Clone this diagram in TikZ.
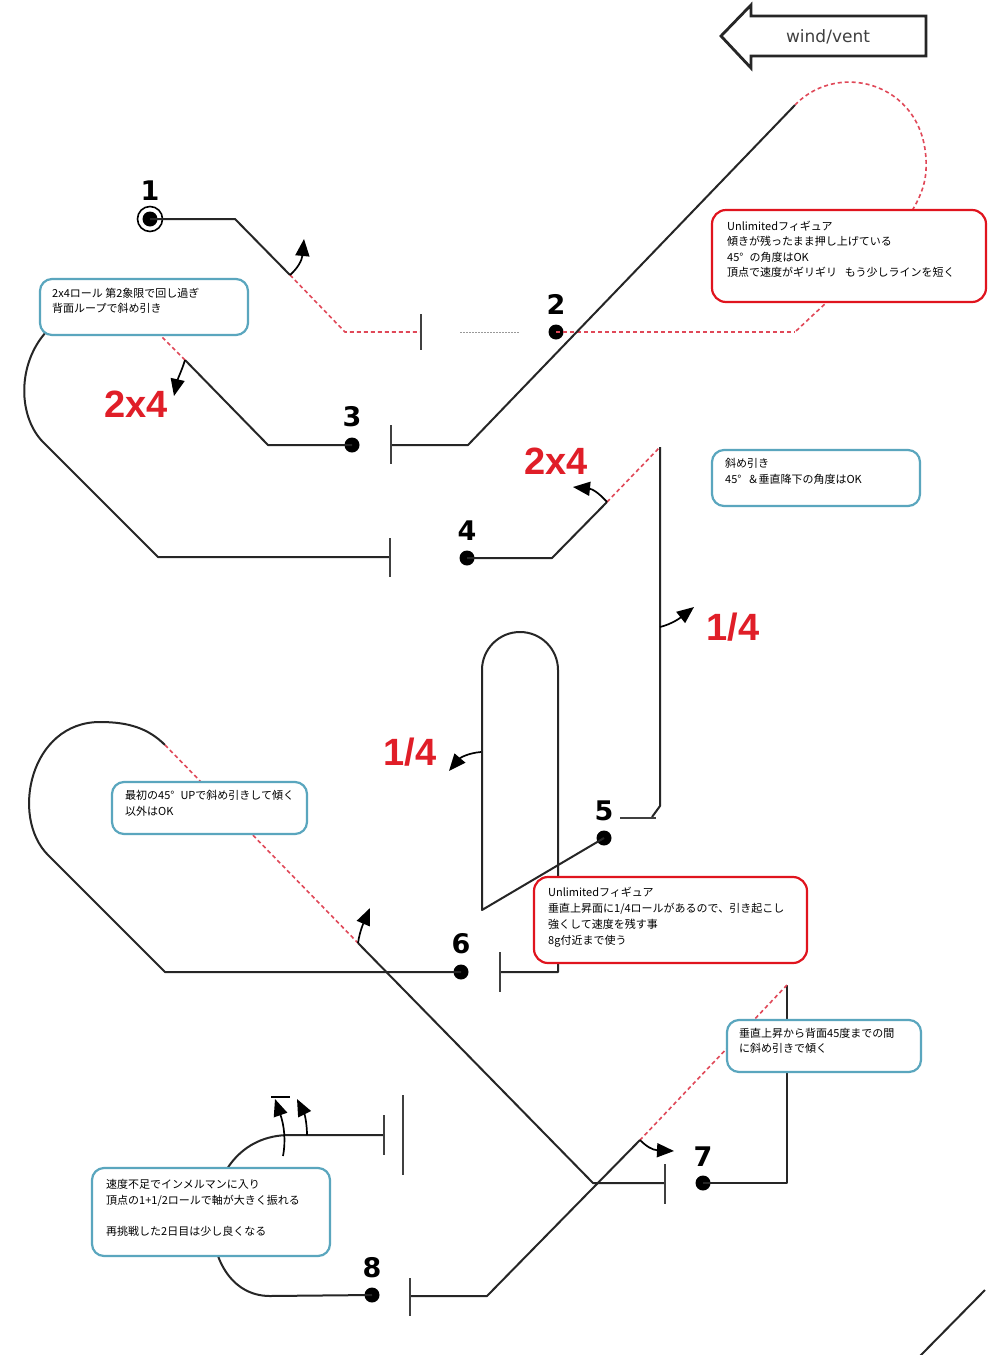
\documentclass[tikz,border=0pt]{standalone}
\usepackage{fontspec}
\setmainfont{DejaVu Sans}
\newfontfamily\jpfont{Noto Sans CJK JP}
\newfontfamily\numfont{DejaVu Sans}
\newfontfamily\redfont{Liberation Sans}
\usetikzlibrary{arrows.meta}
\definecolor{rdash}{HTML}{E04858}
\definecolor{figred}{HTML}{E01E28}
\definecolor{boxred}{HTML}{E0141E}
\definecolor{boxteal}{HTML}{5AA6BE}
\newcommand{\degsp}{°\hspace{0.55em}}
\begin{document}
\begin{tikzpicture}[x=1pt,y=-1pt,
  route/.style={line width=2pt, draw=black!85, line join=round},
  reddash/.style={line width=1.6pt, draw=rdash, dash pattern=on 4pt off 3pt},
  tickmark/.style={line width=2.2pt, draw=black!75},
  dotnode/.style={circle, fill=black, minimum size=15pt, inner sep=0pt},
  numlbl/.style={font=\numfont\bfseries\fontsize{27}{27}\selectfont, inner sep=0pt},
  redlbl/.style={text=figred, font=\redfont\bfseries\fontsize{38}{38}\selectfont, inner sep=0pt},
  rollarrow/.style={line width=1.7pt, draw=black, -{Triangle[length=17pt,width=14pt,fill=black]}},
  redbox/.style={draw=boxred, line width=2.2pt, rounded corners=14pt, fill=white},
  tealbox/.style={draw=boxteal, line width=2.2pt, rounded corners=12pt, fill=white},
  btext/.style={anchor=base west, inner sep=0pt, font=\jpfont\fontsize{11}{12}\selectfont}
]
\useasboundingbox (0,0) rectangle (988,1355);
\fill[white] (0,0) rectangle (988,1355);

% ---------- wind arrow ----------
\draw[line width=2.8pt, draw=black!85, line join=miter] (721,36) -- (751,5) -- (751,16) -- (926,16) -- (926,56) -- (751,56) -- (751,68) -- cycle;
\node[font=\fontsize{17}{17}\selectfont, text=black!75, inner sep=0pt] (wind) at (828,37) {wind/vent};

% ---------- dots ----------
\node[dotnode] (d1) at (150,219) {};
\draw[line width=1.6pt] (d1.center) circle (12.5pt);
\node[dotnode] (d2) at (556,332) {};
\node[dotnode] (d3) at (352,445) {};
\node[dotnode] (d4) at (467,558) {};
\node[dotnode] (d5) at (604,838) {};
\node[dotnode] (d6) at (461,972) {};
\node[dotnode] (d7) at (703,1183) {};
\node[dotnode] (d8) at (372,1295) {};

% ---------- number labels ----------
\node[numlbl] (n1) at (150,191) {1};
\node[numlbl] (n2) at (556,304) {2};
\node[numlbl] (n3) at (352,417) {3};
\node[numlbl] (n4) at (467,531) {4};
\node[numlbl] (n5) at (604,811) {5};
\node[numlbl] (n6) at (461,944) {6};
\node[numlbl] (n7) at (703,1157) {7};
\node[numlbl] (n8) at (372,1268) {8};

% ---------- coordinates ----------
\coordinate (c1a) at (235,219);
\coordinate (c1b) at (290,275);
\coordinate (c1c) at (345,332);
\coordinate (c1d) at (420,332);
\coordinate (c2a) at (795,332);
\coordinate (c2b) at (795,105);
\coordinate (c2c) at (468,445);
\coordinate (c2d) at (391,445);
\coordinate (c3a) at (268,445);
\coordinate (c3b) at (185,360);
\coordinate (c3c) at (160,335);
\coordinate (c4l) at (47,331);
\coordinate (c4m) at (45,444);
\coordinate (c4n) at (158,557);
\coordinate (c4o) at (390,557);
\coordinate (c4a) at (552,558);
\coordinate (c4b) at (607,502);
\coordinate (c4c) at (660,447);
\coordinate (c4d) at (660,806);
\coordinate (c5a) at (482,910);
\coordinate (c5b) at (482,670);
\coordinate (c5c) at (558,972);
\coordinate (c5d) at (500,972);
\coordinate (c6a) at (165,972);
\coordinate (c6b) at (48,855);
\coordinate (c6c) at (165,745);
\coordinate (c6d) at (358,943);
\coordinate (c6e) at (593,1183);
\coordinate (c6f) at (665,1183);
\coordinate (c7a) at (787,1183);
\coordinate (c7b) at (787,985);
\coordinate (c7c) at (640,1140);
\coordinate (c7d) at (487,1296);
\coordinate (c7e) at (410,1296);
\coordinate (c8a) at (270,1296);
\coordinate (c8b) at (290,1135);
\coordinate (c8c) at (384,1135);

% ---------- figure 1-2 ----------
\draw[route] (d1.center) -- (c1a) -- (c1b);
\draw[reddash] (c1b) -- (c1c) -- (c1d);
\draw[tickmark] (421,314) -- (421,350);
\draw[line width=1pt, draw=black!40, dash pattern=on 1.5pt off 1.5pt] (460,332) -- (520,332);
\draw[reddash] (d2.center) -- (c2a);
\draw[reddash] (c2b) .. controls (840,58) and (930,85) .. (926,170) .. controls (924,220) and (860,270) .. (c2a);
\draw[route] (c2d) -- (c2c) -- (c2b);
\draw[tickmark] (391,425) -- (391,464);
\draw[rollarrow] (c1b) .. controls (298,268) and (302,260) .. (304,239);

% ---------- figure 3 ----------
\draw[route] (d3.center) -- (c3a) -- (c3b);
\draw[reddash] (c3b) -- (c3c);
\draw[route] (c4l) .. controls (17,363) and (17,418) .. (c4m) -- (c4n) -- (c4o);
\draw[tickmark] (390,538) -- (390,577);
\draw[rollarrow] (c3b) .. controls (182,370) and (178,378) .. (174,396);
\node[redlbl] (r1) at (136,404) {2x4};

% ---------- figure 4 ----------
\draw[route] (d4.center) -- (c4a) -- (c4b);
\draw[reddash] (c4b) -- (c4c);
\draw[route] (c4c) -- (c4d) -- (652,817);
\draw[tickmark] (620,818) -- (656,818);
\draw[rollarrow] (c4b) .. controls (598,492) and (592,489) .. (573,487);
\node[redlbl] (r2) at (556,461) {2x4};
\draw[rollarrow] (660,627) .. controls (672,624) and (680,618) .. (694,607);
\node[redlbl] (r3) at (733,627) {1/4};

% ---------- figure 5 ----------
\draw[route] (d5.center) -- (c5a) -- (c5b) arc[start angle=180, end angle=360, radius=38] -- (c5c) -- (c5d);
\draw[tickmark] (500,952) -- (500,992);
\draw[rollarrow] (481,752) .. controls (468,753) and (460,758) .. (449,771);
\node[redlbl] (r4) at (410,752) {1/4};

% ---------- figure 6 ----------
\draw[route] (d6.center) -- (c6a) -- (c6b) .. controls (10,817) and (30,722) .. (100,722) .. controls (128,722) and (148,728) .. (c6c);
\draw[reddash] (c6c) -- (c6d);
\draw[route] (c6d) -- (c6e) -- (c6f);
\draw[tickmark] (665,1164) -- (665,1204);
\draw[rollarrow] (c6d) .. controls (360,930) and (364,922) .. (370,908);

% ---------- figure 7 ----------
\draw[route] (d7.center) -- (c7a) -- (c7b);
\draw[reddash] (c7b) -- (c7c);
\draw[route] (c7c) -- (c7d) -- (c7e);
\draw[tickmark] (410,1278) -- (410,1316);
\draw[rollarrow] (c7c) .. controls (646,1146) and (652,1150) .. (674,1151);

% ---------- figure 8 ----------
\draw[route] (d8.center) -- (c8a) .. controls (190,1296) and (190,1135) .. (c8b) -- (c8c);
\draw[tickmark] (384,1115) -- (384,1155);
\draw[tickmark] (403,1095) -- (403,1175);
\draw[rollarrow] (283,1156) .. controls (286,1140) and (284,1125) .. (275,1099);
\draw[line width=1.8pt] (271,1097) -- (290,1097);
\draw[rollarrow] (307,1135) .. controls (307,1125) and (305,1115) .. (297,1099);

% bottom-right stray line
\draw[route] (920,1356) -- (985,1290);

% ---------- comment boxes ----------
\draw[redbox] (712,210) rectangle (986,302);
\node[btext] (t11) at (727,230) {Unlimitedフィギュア};
\node[btext] (t12) at (727,245.5) {傾きが残ったまま押し上げている};
\node[btext] (t13) at (727,261) {45\degsp の角度はOK};
\node[btext] (t14) at (727,276.5) {頂点で速度がギリギリ\hspace{0.7em}もう少しラインを短く};

\draw[tealbox] (40,279) rectangle (248,335);
\node[btext] (t21) at (52,297) {2x4ロール 第2象限で回し過ぎ};
\node[btext] (t22) at (52,312.5) {背面ループで斜め引き};

\draw[tealbox] (712,450) rectangle (920,506);
\node[btext] (t31) at (725,467) {斜め引き};
\node[btext] (t32) at (725,483) {45\degsp ＆垂直降下の角度はOK};

\draw[tealbox] (112,782) rectangle (307,834);
\node[btext] (t41) at (125,799) {最初の45\degsp UPで斜め引きして傾く};
\node[btext] (t42) at (125,815) {以外はOK};

\draw[redbox] (534,877) rectangle (807,963);
\node[btext] (t51) at (548,896) {Unlimitedフィギュア};
\node[btext] (t52) at (548,912) {垂直上昇面に1/4ロールがあるので、引き起こし};
\node[btext] (t53) at (548,928) {強くして速度を残す事};
\node[btext] (t54) at (548,944) {8g付近まで使う};

\draw[tealbox] (727,1020) rectangle (921,1072);
\node[btext] (t61) at (739,1037) {垂直上昇から背面45度までの間};
\node[btext] (t62) at (739,1052) {に斜め引きで傾く};

\draw[tealbox] (92,1168) rectangle (330,1256);
\node[btext] (t71) at (106,1188) {速度不足でインメルマンに入り};
\node[btext] (t72) at (106,1204) {頂点の1+1/2ロールで軸が大きく振れる};
\node[btext] (t73) at (106,1235) {再挑戦した2日目は少し良くなる};
\end{tikzpicture}
\end{document}
